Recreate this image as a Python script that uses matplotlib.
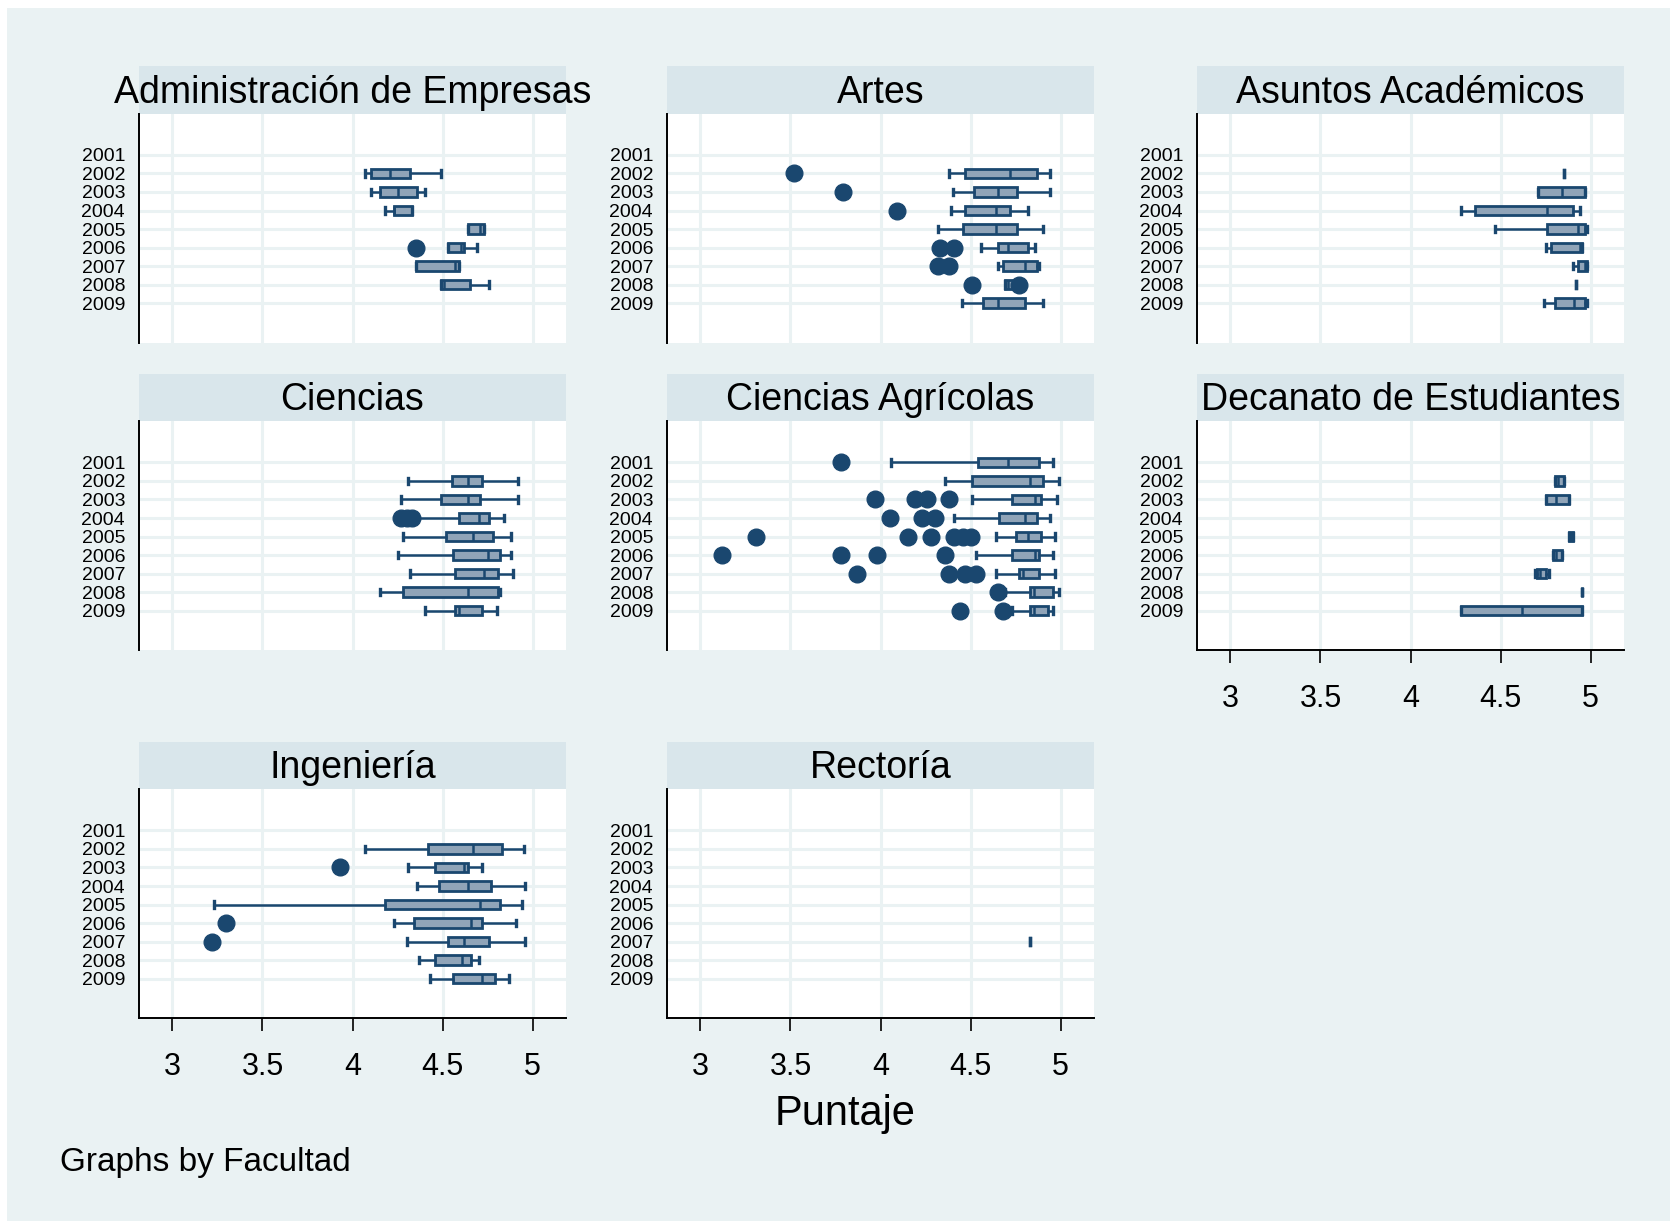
import matplotlib
matplotlib.use("Agg")
import matplotlib.pyplot as plt
from matplotlib.patches import Rectangle

plt.rcParams['font.family'] = ['Liberation Sans', 'DejaVu Sans']

years = [2001, 2002, 2003, 2004, 2005, 2006, 2007, 2008, 2009]
facultades = ["Administración de Empresas", "Artes", "Asuntos Académicos",
              "Ciencias", "Ciencias Agrícolas", "Decanato de Estudiantes",
              "Ingeniería", "Rectoría"]

# box rows: (year, whisker low, q1, median, q3, whisker high)
admin_box = [(2002, 4.07, 4.10, 4.21, 4.32, 4.49),
             (2003, 4.10, 4.15, 4.25, 4.36, 4.40),
             (2004, 4.18, 4.23, 4.23, 4.33, 4.33),
             (2005, 4.64, 4.64, 4.71, 4.73, 4.73),
             (2006, 4.53, 4.53, 4.60, 4.62, 4.69),
             (2007, 4.35, 4.35, 4.57, 4.59, 4.59),
             (2008, 4.49, 4.49, 4.51, 4.65, 4.76)]
admin_out = [(2006, 4.35)]

artes_box = [(2002, 4.38, 4.47, 4.72, 4.87, 4.94),
             (2003, 4.40, 4.52, 4.65, 4.76, 4.94),
             (2004, 4.39, 4.47, 4.64, 4.72, 4.82),
             (2005, 4.32, 4.46, 4.64, 4.76, 4.90),
             (2006, 4.56, 4.65, 4.71, 4.82, 4.86),
             (2007, 4.65, 4.68, 4.80, 4.87, 4.88),
             (2008, 4.69, 4.69, 4.71, 4.76, 4.76),
             (2009, 4.45, 4.57, 4.65, 4.80, 4.90)]
artes_out = [(2002, 3.52), (2003, 3.79), (2004, 4.09),
             (2006, 4.33), (2006, 4.41), (2007, 4.32), (2007, 4.38),
             (2008, 4.51), (2008, 4.77)]

asuntos_box = [(2002, 4.85, 4.85, 4.85, 4.85, 4.85),
               (2003, 4.71, 4.71, 4.84, 4.97, 4.97),
               (2004, 4.28, 4.36, 4.76, 4.90, 4.94),
               (2005, 4.47, 4.76, 4.93, 4.97, 4.98),
               (2006, 4.75, 4.78, 4.94, 4.95, 4.95),
               (2007, 4.90, 4.93, 4.97, 4.98, 4.98),
               (2008, 4.92, 4.92, 4.92, 4.92, 4.92),
               (2009, 4.74, 4.80, 4.91, 4.97, 4.98)]
asuntos_out = []

ciencias_box = [(2002, 4.31, 4.55, 4.64, 4.72, 4.92),
                (2003, 4.27, 4.49, 4.64, 4.71, 4.92),
                (2004, 4.36, 4.59, 4.70, 4.76, 4.84),
                (2005, 4.28, 4.52, 4.67, 4.78, 4.88),
                (2006, 4.25, 4.56, 4.75, 4.82, 4.88),
                (2007, 4.32, 4.57, 4.73, 4.81, 4.89),
                (2008, 4.15, 4.28, 4.64, 4.81, 4.82),
                (2009, 4.40, 4.57, 4.59, 4.72, 4.80)]
ciencias_out = [(2004, 4.27), (2004, 4.30), (2004, 4.33)]

agricolas_box = [(2001, 4.06, 4.54, 4.71, 4.88, 4.96),
                 (2002, 4.36, 4.51, 4.83, 4.90, 4.99),
                 (2003, 4.51, 4.73, 4.86, 4.89, 4.98),
                 (2004, 4.41, 4.66, 4.80, 4.87, 4.94),
                 (2005, 4.64, 4.75, 4.82, 4.89, 4.97),
                 (2006, 4.53, 4.73, 4.86, 4.88, 4.96),
                 (2007, 4.64, 4.77, 4.79, 4.88, 4.97),
                 (2008, 4.69, 4.83, 4.85, 4.96, 4.99),
                 (2009, 4.73, 4.83, 4.85, 4.93, 4.96)]
agricolas_out = [(2001, 3.78),
                 (2003, 3.97), (2003, 4.19), (2003, 4.26), (2003, 4.38),
                 (2004, 4.05), (2004, 4.23), (2004, 4.30),
                 (2005, 3.31), (2005, 4.15), (2005, 4.28), (2005, 4.41),
                 (2005, 4.46), (2005, 4.50),
                 (2006, 3.12), (2006, 3.78), (2006, 3.98), (2006, 4.36),
                 (2007, 3.87), (2007, 4.38), (2007, 4.47), (2007, 4.53),
                 (2008, 4.65), (2009, 4.44), (2009, 4.68)]

decanato_box = [(2002, 4.80, 4.80, 4.82, 4.85, 4.85),
                (2003, 4.75, 4.75, 4.81, 4.88, 4.88),
                (2005, 4.88, 4.88, 4.89, 4.90, 4.90),
                (2006, 4.79, 4.79, 4.81, 4.84, 4.84),
                (2007, 4.69, 4.70, 4.72, 4.75, 4.77),
                (2008, 4.95, 4.95, 4.95, 4.95, 4.95),
                (2009, 4.28, 4.28, 4.62, 4.95, 4.95)]
decanato_out = []

ingenieria_box = [(2002, 4.07, 4.42, 4.67, 4.83, 4.95),
                  (2003, 4.31, 4.46, 4.62, 4.64, 4.72),
                  (2004, 4.36, 4.48, 4.64, 4.77, 4.96),
                  (2005, 3.23, 4.18, 4.71, 4.82, 4.94),
                  (2006, 4.23, 4.34, 4.66, 4.72, 4.91),
                  (2007, 4.30, 4.53, 4.62, 4.76, 4.96),
                  (2008, 4.37, 4.46, 4.61, 4.66, 4.70),
                  (2009, 4.43, 4.56, 4.72, 4.79, 4.87)]
ingenieria_out = [(2003, 3.93), (2006, 3.30), (2007, 3.22)]

rectoria_box = [(2007, 4.83, 4.83, 4.83, 4.83, 4.83)]
rectoria_out = []

panels = {
    "Administración de Empresas": (admin_box, admin_out),
    "Artes": (artes_box, artes_out),
    "Asuntos Académicos": (asuntos_box, asuntos_out),
    "Ciencias": (ciencias_box, ciencias_out),
    "Ciencias Agrícolas": (agricolas_box, agricolas_out),
    "Decanato de Estudiantes": (decanato_box, decanato_out),
    "Ingeniería": (ingenieria_box, ingenieria_out),
    "Rectoría": (rectoria_box, rectoria_out),
}

navy = "#1A476F"
fill = "#90A4B8"
bg = "#EAF2F3"
strip_c = "#D9E6EB"
grid_c = "#EAF2F3"

W, H = 1679, 1225
fig = plt.figure(figsize=(W / 100, H / 100), dpi=100, facecolor="white")
fig.patches.append(Rectangle((7 / W, 4 / H), 1663 / W, 1213 / H,
                             transform=fig.transFigure, facecolor=bg,
                             edgecolor="none", zorder=-10))

col_left = [139 / W, 667 / W, 1197 / W]
pw = 427 / W
row_top = [113.5, 421, 789]   # pixels from top
ph = 229
strip_h = 47

for i, name in enumerate(facultades):
    r, c = divmod(i, 3)
    bottom = 1 - (row_top[r] + ph) / H
    ax = fig.add_axes([col_left[c], bottom, pw, ph / H])
    ax.set_facecolor("white")

    box, out = panels[name]
    stats = []
    pos = []
    for yr, lo, q1, med, q3, hi in box:
        fl = [v for (y2, v) in out if y2 == yr]
        stats.append(dict(whislo=lo, q1=q1, med=med, q3=q3, whishi=hi, fliers=fl))
        pos.append(years.index(yr))
    ax.bxp(stats, positions=pos, orientation="horizontal", widths=0.52,
           capwidths=0.34, patch_artist=True, manage_ticks=False,
           boxprops=dict(facecolor=fill, edgecolor=navy, linewidth=2.0),
           medianprops=dict(color=navy, linewidth=1.8),
           whiskerprops=dict(color=navy, linewidth=1.8),
           capprops=dict(color=navy, linewidth=2.4),
           flierprops=dict(marker="o", markerfacecolor=navy,
                           markeredgecolor=navy, markersize=12))

    ax.set_xlim(2.814, 5.186)
    ax.set_ylim(8 + 2.13, -2.24)
    ax.set_yticks(range(len(years)))
    ax.set_yticklabels([str(y) for y in years], fontsize=14)
    ax.tick_params(axis="y", length=0, pad=10)
    ax.set_xticks([3, 3.5, 4, 4.5, 5])
    ax.set_xticklabels(["3", "3.5", "4", "4.5", "5"], fontsize=22)
    ax.tick_params(axis="x", length=9.5, width=1.2, pad=15)
    ax.grid(True, color=grid_c, linewidth=2.2, zorder=0)
    ax.set_axisbelow(True)
    for s in ("top", "right"):
        ax.spines[s].set_visible(False)
    ax.spines["left"].set_linewidth(1.4)
    ax.spines["left"].set_color("black")

    has_xaxis = (r == 2) or (name == "Decanato de Estudiantes")
    if has_xaxis:
        ax.spines["bottom"].set_linewidth(1.4)
        ax.spines["bottom"].set_color("black")
    else:
        ax.spines["bottom"].set_visible(False)
        ax.tick_params(axis="x", length=0, labelbottom=False)

    # strip title
    sb = 1 - row_top[r] / H
    fig.patches.append(Rectangle((col_left[c], sb), pw, strip_h / H,
                                 transform=fig.transFigure, facecolor=strip_c,
                                 edgecolor="none", zorder=-5))
    fig.text(col_left[c] + pw / 2, sb + (strip_h / 2 - 3) / H, name,
             ha="center", va="center", fontsize=27, color="black")

fig.text(845 / W, 1 - 1114 / H, "Puntaje", ha="center", va="center", fontsize=30)
fig.text(60 / W, 1 - 1163 / H, "Graphs by Facultad", ha="left", va="center", fontsize=24)

fig.savefig("out.png", dpi=100, facecolor=fig.get_facecolor())
